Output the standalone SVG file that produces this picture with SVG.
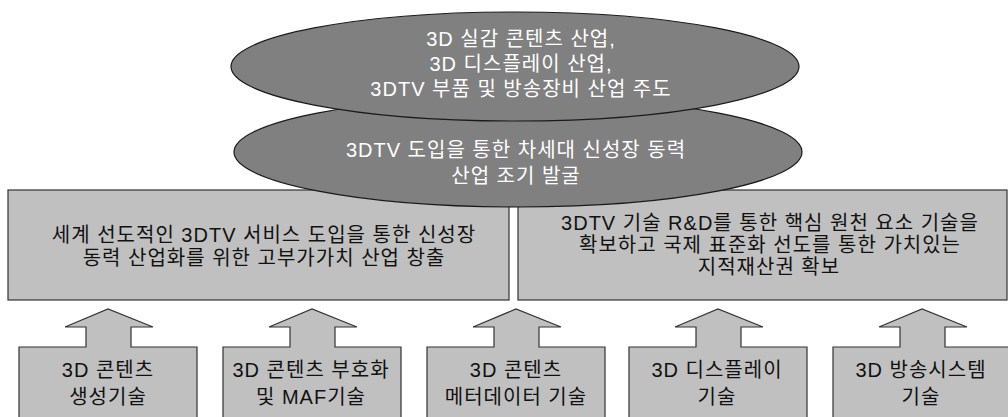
<svg xmlns="http://www.w3.org/2000/svg" width="1008" height="417" viewBox="0 0 1008 417">
<style>
  .box { fill: #c0c0c0; stroke: #333333; stroke-width: 1.2; }
  .ell { fill: #808080; stroke: #1a1a1a; stroke-width: 1.2; }
  text { font-family: "Liberation Sans", "Noto Sans CJK KR", sans-serif; font-size: 20px; letter-spacing: 1px; text-anchor: middle; }
  .dark { fill: #111111; }
  .light { fill: #ffffff; }
</style>
<rect width="1008" height="417" fill="#ffffff"/>

<g id="goal-left">
  <rect class="box" x="8" y="190" width="501" height="110"/>
  <text class="dark" x="264" y="242">세계 선도적인 3DTV 서비스 도입을 통한 신성장</text>
  <text class="dark" x="264" y="265">동력 산업화를 위한 고부가가치 산업 창출</text>
</g>

<g id="goal-right">
  <rect class="box" x="518" y="190" width="489" height="110"/>
  <text class="dark" x="770" y="230">3DTV 기술 R&amp;D를 통한 핵심 원천 요소 기술을</text>
  <text class="dark" x="770" y="252">확보하고 국제 표준화 선도를 통한 가치있는</text>
  <text class="dark" x="769" y="274">지적재산권 확보</text>
</g>

<g id="vision-lower">
  <ellipse class="ell" cx="518" cy="152" rx="284" ry="55"/>
  <text class="light" x="516" y="157">3DTV 도입을 통한 차세대 신성장 동력</text>
  <text class="light" x="516" y="183">산업 조기 발굴</text>
</g>

<g id="vision-upper">
  <ellipse class="ell" cx="515" cy="66.5" rx="284" ry="54.5"/>
  <text class="light" x="521" y="46">3D 실감 콘텐츠 산업,</text>
  <text class="light" x="521" y="71">3D 디스플레이 산업,</text>
  <text class="light" x="521" y="96">3DTV 부품 및 방송장비 산업 주도</text>
</g>

<g id="connectors"></g>

<g id="tech-1">
  <path class="box" d="M19,430 V347 H86 V327 H65 L108,309 L153,327 H131 V347 H197 V430 Z"/>
  <text class="dark" x="108" y="377">3D 콘텐츠</text>
  <text class="dark" x="108" y="404">생성기술</text>
</g>

<g id="tech-2">
  <path class="box" d="M223,430 V347 H290 V327 H269 L312,309 L357,327 H335 V347 H401 V430 Z"/>
  <text class="dark" x="311" y="377">3D 콘텐츠 부호화</text>
  <text class="dark" x="311" y="404">및 MAF기술</text>
</g>

<g id="tech-3">
  <path class="box" d="M427,430 V347 H494 V327 H473 L516,309 L561,327 H539 V347 H605 V430 Z"/>
  <text class="dark" x="516" y="377">3D 콘텐츠</text>
  <text class="dark" x="516" y="404">메터데이터 기술</text>
</g>

<g id="tech-4">
  <path class="box" d="M629,430 V347 H696 V327 H675 L718,309 L763,327 H741 V347 H807 V430 Z"/>
  <text class="dark" x="717" y="377">3D 디스플레이</text>
  <text class="dark" x="717" y="404">기술</text>
</g>

<g id="tech-5">
  <path class="box" d="M833,430 V347 H900 V327 H879 L922,309 L967,327 H945 V347 H1011 V430 Z"/>
  <text class="dark" x="921" y="377">3D 방송시스템</text>
  <text class="dark" x="921" y="404">기술</text>
</g>
</svg>
